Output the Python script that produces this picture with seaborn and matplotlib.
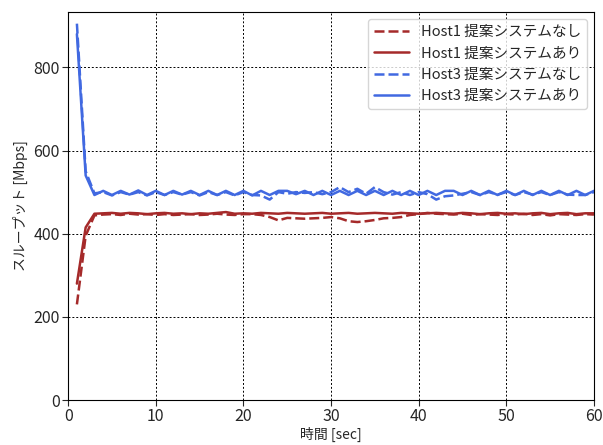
"""Throughput of Host1 / Host3 with and without the proposed system."""
import matplotlib; matplotlib.use("Agg")
import numpy as np
import pandas as pd
import matplotlib.pyplot as plt
import seaborn as sns

# time [sec]
TIME = list(range(1, 61))

HOST1_OFF = [230, 395, 444, 446, 447, 445, 448, 446, 447, 445,
             447, 445, 446, 447, 445, 446, 448, 446, 445, 447,
             447, 445, 440, 432, 438, 437, 436, 437, 438, 440,
             437, 430, 428, 430, 433, 437, 438, 440, 445, 447,
             450, 448, 447, 446, 448, 445, 447, 446, 445, 447,
             446, 448, 445, 447, 444, 447, 446, 445, 447, 446]
HOST1_ON = [280, 415, 448, 449, 450, 448, 450, 449, 447, 449,
            450, 448, 449, 447, 449, 448, 450, 452, 448, 449,
            448, 450, 449, 448, 450, 449, 448, 449, 450, 448,
            449, 450, 448, 449, 450, 449, 448, 450, 449, 448,
            449, 450, 449, 448, 450, 449, 447, 449, 450, 448,
            449, 447, 449, 450, 447, 449, 450, 447, 449, 449]
HOST3_OFF = [905, 550, 497, 500, 492, 500, 494, 500, 492, 500,
             493, 500, 494, 500, 492, 500, 493, 500, 492, 500,
             493, 492, 482, 500, 496, 500, 498, 500, 495, 500,
             512, 500, 508, 496, 512, 500, 494, 500, 493, 500,
             495, 482, 490, 492, 496, 500, 493, 500, 494, 500,
             493, 500, 494, 500, 493, 500, 494, 493, 493, 500]
HOST3_ON = [880, 540, 493, 503, 493, 503, 494, 504, 493, 503,
            493, 503, 494, 503, 493, 503, 493, 503, 493, 503,
            492, 503, 493, 503, 503, 495, 503, 493, 503, 493,
            503, 493, 503, 493, 503, 493, 503, 493, 503, 493,
            503, 493, 503, 503, 493, 503, 493, 503, 493, 503,
            493, 503, 493, 503, 493, 503, 493, 503, 493, 503]

LABELS = ["Host1 提案システムなし", "Host1 提案システムあり",
          "Host3 提案システムなし", "Host3 提案システムあり"]
COLORS = ["#a52a2a", "#a52a2a", "#4169e1", "#4169e1"]
DASHES = [(4, 1.6), "", (4, 1.6), ""]

sns.set_style("white")
plt.rcParams["font.family"] = ["Noto Sans CJK JP", "DejaVu Sans"]

df = pd.concat([pd.DataFrame({"time": TIME, "Mbps": v, "series": lab})
                for v, lab in zip([HOST1_OFF, HOST1_ON, HOST3_OFF, HOST3_ON], LABELS)],
               ignore_index=True)

fig, ax = plt.subplots(figsize=(6.03, 4.45), dpi=100)
fig.subplots_adjust(left=0.113, right=0.985, top=0.973, bottom=0.101)
sns.lineplot(data=df, x="time", y="Mbps", hue="series", style="series",
             hue_order=LABELS, style_order=LABELS,
             palette=dict(zip(LABELS, COLORS)), dashes=dict(zip(LABELS, DASHES)),
             linewidth=1.8, ax=ax)

ax.set_xlim(0, 60); ax.set_ylim(0, 933)
ax.set_xticks(range(0, 61, 10)); ax.set_yticks(range(0, 801, 200))
ax.grid(True, color="black", linestyle=(0, (2, 2)), linewidth=0.7)
ax.tick_params(axis="both", labelsize=11.5, length=4, pad=2,
               direction="out", left=True, bottom=True)
for s in ax.spines.values():
    s.set_color("black")
ax.set_xlabel("時間 [sec]", fontsize=10, labelpad=1)
ax.set_ylabel("スループット [Mbps]", fontsize=10, labelpad=4)
ax.legend(loc="upper right", fontsize=10.5, handlelength=2.4, title=None)

fig.savefig("out.png", dpi=100)
